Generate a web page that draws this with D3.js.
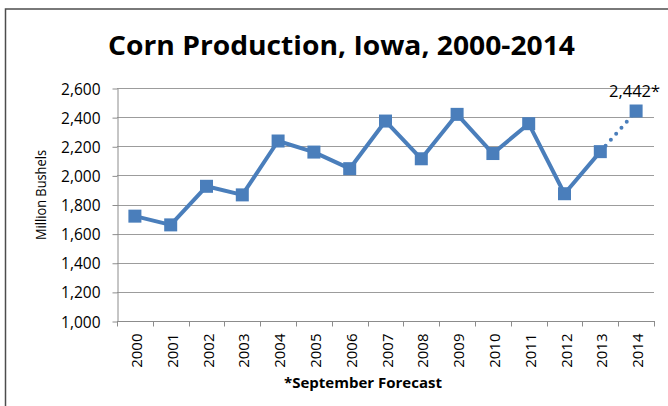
<!doctype html>
<html>
<head>
<meta charset="UTF-8">
<title>Corn Production, Iowa</title>
<style>
  body { margin: 0; background: #fff; }
  svg { display: block; }
  .grid line { stroke: #9c9c9c; stroke-width: 1; }
  .axis path, .axis line { stroke: #8c8c8c; }
  .axis text { font-family: "Open Sans", sans-serif; fill: #000; }
</style>
<script src="https://d3js.org/d3.v7.min.js"></script>
</head>
<body>
<svg id="chart" width="668" height="406"></svg>
<script>
// data
var years = ["2000","2001","2002","2003","2004","2005","2006","2007","2008","2009","2010","2011","2012","2013","2014"];
var bushels = [1720, 1660, 1925, 1866, 2236, 2160, 2046, 2373, 2114, 2419, 2150, 2355, 1874, 2163, 2442];
var yTicks = [1000, 1200, 1400, 1600, 1800, 2000, 2200, 2400, 2600];

var svg = d3.select("#chart");
var plotLeft = 117, plotRight = 654, plotTop = 88, plotBottom = 321;
var blue = "#4a7ebb";

// outer frame
svg.append("rect")
    .attr("x", 5.5).attr("y", 9)
    .attr("width", 700).attr("height", 450)
    .attr("fill", "none")
    .attr("stroke", "#4d4d4d")
    .attr("stroke-width", 1.5);

var x = d3.scaleBand().domain(years).range([plotLeft, plotRight]);
var y = d3.scaleLinear().domain([1000, 2600]).range([plotBottom, plotTop]);

// gridlines
svg.append("g").attr("class", "grid")
  .selectAll("line")
  .data(yTicks.slice(1))
  .enter().append("line")
    .attr("x1", plotLeft).attr("x2", plotRight)
    .attr("y1", function(d) { return Math.round(y(d)) + 0.5; })
    .attr("y2", function(d) { return Math.round(y(d)) + 0.5; });

// y axis
var yAxis = svg.append("g").attr("class", "axis")
    .attr("transform", "translate(" + (plotLeft + 0.5) + ",0.5)")
    .call(d3.axisLeft(y).tickValues(yTicks).tickSize(5).tickSizeOuter(0).tickPadding(12).tickFormat(d3.format(",")));
yAxis.selectAll("text").attr("font-size", "15.5px").attr("dy", "0.36em");

// x axis, ticks between categories
var xAxis = svg.append("g").attr("class", "axis")
    .attr("transform", "translate(0," + (plotBottom + 0.5) + ")");
xAxis.append("line")
    .attr("x1", plotLeft).attr("x2", plotRight + 1)
    .attr("stroke", "#8c8c8c");
xAxis.selectAll("line.tick")
    .data(years.concat(["end"]))
    .enter().append("line")
    .attr("class", "tick")
    .attr("x1", function(d, i) { return Math.round(plotLeft + i * x.step()) + 0.5; })
    .attr("x2", function(d, i) { return Math.round(plotLeft + i * x.step()) + 0.5; })
    .attr("y1", 0).attr("y2", 5)
    .attr("stroke", "#8c8c8c");
xAxis.selectAll("text")
    .data(years)
    .enter().append("text")
    .attr("transform", function(d) {
        return "translate(" + (x(d) + x.bandwidth() / 2 + 7) + ",12) rotate(-90)";
    })
    .attr("text-anchor", "end")
    .attr("font-size", "15px")
    .text(function(d) { return d; });

// line
var cx = function(d, i) { return x(years[i]) + x.bandwidth() / 2; };
var line = d3.line()
    .x(function(d, i) { return cx(d, i); })
    .y(function(d) { return y(d); });

svg.append("path")
    .datum(bushels.slice(0, 14))
    .attr("d", line)
    .attr("fill", "none")
    .attr("stroke", blue)
    .attr("stroke-width", 4)
    .attr("stroke-linejoin", "round");

// forecast segment
svg.append("line")
    .attr("x1", cx(0, 13)).attr("y1", y(bushels[13]))
    .attr("x2", cx(0, 14)).attr("y2", y(bushels[14]))
    .attr("stroke", blue)
    .attr("stroke-width", 4)
    .attr("stroke-linecap", "round")
    .attr("stroke-dasharray", "0,8");

// markers
svg.selectAll("rect.mark")
    .data(bushels)
    .enter().append("rect")
    .attr("class", "mark")
    .attr("x", function(d, i) { return cx(d, i) - 6.5; })
    .attr("y", function(d) { return y(d) - 6.5; })
    .attr("width", 13).attr("height", 13)
    .attr("fill", blue);

// forecast label
svg.append("text")
    .attr("x", 609)
    .attr("y", 97)
    .attr("font-family", "Open Sans, sans-serif")
    .attr("font-size", "16.5px")
    .text("2,442*");

// title
svg.append("text")
    .attr("x", 108).attr("y", 55)
    .attr("font-family", "Open Sans, sans-serif")
    .attr("font-weight", "bold")
    .attr("font-size", "27px")
    .attr("textLength", 467)
    .attr("lengthAdjust", "spacingAndGlyphs")
    .text("Corn Production, Iowa, 2000-2014");

// y title
svg.append("text")
    .attr("transform", "translate(46,195) rotate(-90)")
    .attr("text-anchor", "middle")
    .attr("font-family", "Open Sans, sans-serif")
    .attr("font-size", "14px")
    .attr("textLength", 90)
    .attr("lengthAdjust", "spacingAndGlyphs")
    .text("Million Bushels");

// x footnote
svg.append("text")
    .attr("x", 284).attr("y", 388)
    .attr("font-family", "Open Sans, sans-serif")
    .attr("font-weight", "bold")
    .attr("font-size", "14px")
    .attr("textLength", 158)
    .attr("lengthAdjust", "spacingAndGlyphs")
    .text("*September Forecast");
</script>
</body>
</html>
